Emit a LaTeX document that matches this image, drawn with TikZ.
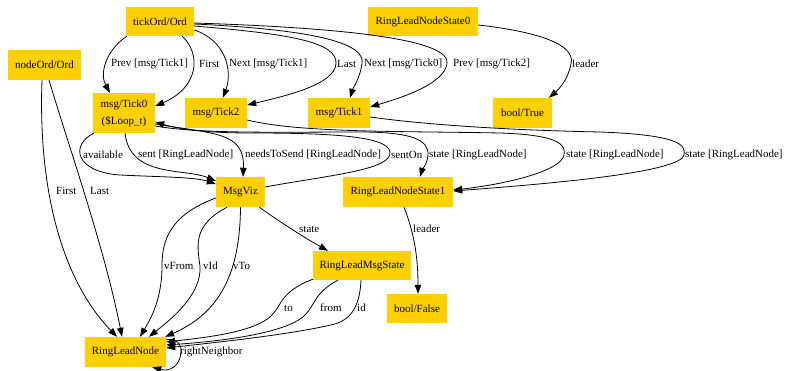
\documentclass[tikz,border=0pt]{standalone}
\usepackage{fontspec}
\setmainfont{Liberation Serif}
\usetikzlibrary{arrows.meta}
\definecolor{nodeyellow}{RGB}{255,208,0}
\begin{document}
\begin{tikzpicture}[x=1pt,y=-1pt,
  box/.style={fill=nodeyellow, inner sep=0pt, font=\fontsize{11}{13}\selectfont, align=center},
  lbl/.style={anchor=west, inner sep=0pt, font=\fontsize{11}{13}\selectfont},
  edge/.style={draw, line width=0.8pt, -{Triangle[length=9pt,width=6.5pt]}}
]
\useasboundingbox (0,0) rectangle (785,371);
% nodes
\node[box, minimum width=68pt, minimum height=29pt] (tick) at (160,21.5) {tickOrd/Ord};
\node[box, minimum width=110pt, minimum height=29pt] (rlns0) at (423,21.5) {RingLeadNodeState0};
\node[box, minimum width=73pt, minimum height=30pt] (nodeord) at (44.5,65) {nodeOrd/Ord};
\node[box, minimum width=62pt, minimum height=40pt] (tick0) at (124,113) {msg/Tick0\\[4pt](\$Loop\_t)};
\node[box, minimum width=62pt, minimum height=30pt] (tick2) at (216,113) {msg/Tick2};
\node[box, minimum width=62pt, minimum height=30pt] (tick1) at (339,113) {msg/Tick1};
\node[box, minimum width=59pt, minimum height=30pt] (btrue) at (522.5,113) {bool/True};
\node[box, minimum width=49pt, minimum height=30pt] (msgviz) at (240.5,192) {MsgViz};
\node[box, minimum width=110pt, minimum height=30pt] (rlns1) at (398,192) {RingLeadNodeState1};
\node[box, minimum width=98pt, minimum height=29pt] (rlms) at (362,265.5) {RingLeadMsgState};
\node[box, minimum width=60pt, minimum height=29pt] (bfalse) at (417,308.5) {bool/False};
\node[box, minimum width=81pt, minimum height=30pt] (rln) at (125.5,352) {RingLeadNode};
% edges from tickOrd
\path[edge] ([xshift=1pt]tick.south west) .. controls (104,52) and (100,75) .. ([xshift=-14pt]tick0.north);
\path[edge] ([xshift=-12pt]tick.south east) .. controls (202,55) and (198,88) .. ([yshift=7pt]tick0.east);
\path[edge] ([yshift=-8.5pt]tick.east) .. controls (225,40) and (233,70) .. ([xshift=7pt]tick2.north);
\path[edge] ([yshift=-4.5pt]tick.east) .. controls (290,34) and (338,42) .. (336,64) .. controls (334,84) and (290,95) .. ([yshift=8pt]tick2.east);
\path[edge] ([yshift=-2.5pt]tick.east) .. controls (320,30) and (366,44) .. (362,64) .. controls (360,78) and (353,88) .. ([xshift=11pt]tick1.north);
\path[edge] ([yshift=-1.5pt]tick.east) .. controls (350,28) and (452,40) .. (447,64) .. controls (443,85) and (400,98) .. ([yshift=6pt]tick1.east);
% RingLeadNodeState0 -> bool/True
\path[edge] ([yshift=-3.5pt]rlns0.east) .. controls (540,32) and (576,45) .. (571,64) .. controls (568,80) and (558,90) .. ([xshift=26.5pt]btrue.north);
% nodeOrd -> RingLeadNode
\path[edge] ([xshift=-2.5pt]nodeord.south) .. controls (38,190) and (62,280) .. ([xshift=-8.5pt]rln.north);
\path[edge] ([xshift=4.5pt]nodeord.south) .. controls (70,150) and (105,250) .. ([xshift=-3.5pt]rln.north);
% Tick0 -> MsgViz
\path[edge] ([xshift=1pt]tick0.south west) .. controls (70,145) and (75,172) .. (120,175) .. controls (160,177) and (195,177) .. ([yshift=8pt]msgviz.west);
\path[edge] ([xshift=1pt]tick0.south) .. controls (130,178) and (185,168) .. ([yshift=11pt]msgviz.west);
\path[edge] ([yshift=-11pt]tick0.east) .. controls (215,134) and (245,132) .. ([xshift=2.5pt]msgviz.north);
% MsgViz -> Tick0 sentOn
\path[edge] ([yshift=5pt]msgviz.east) .. controls (330,175) and (392,170) .. (390,152) .. controls (388,136) and (330,133) .. (250,133) .. controls (200,133) and (175,128) .. ([yshift=-9pt]tick0.east);
% state -> RingLeadNodeState1
\path[edge] ([yshift=-13pt]tick0.east) .. controls (200,134) and (280,132) .. (360,132) .. controls (412,132) and (429,140) .. (428,155) .. controls (427,165) and (422,170) .. ([xshift=22pt]rlns1.north);
\path[edge] ([yshift=-7pt]tick2.east) .. controls (300,133) and (400,131) .. (500,133) .. controls (560,135) and (566,145) .. (564,155) .. controls (561,172) and (500,185) .. ([yshift=2pt]rlns1.east);
\path[edge] ([yshift=-4pt]tick1.east) .. controls (420,124) and (500,130) .. (600,132) .. controls (680,135) and (686,145) .. (684,155) .. controls (680,172) and (560,183) .. ([yshift=1pt]rlns1.east);
% MsgViz -> RingLeadMsgState
\path[edge] ([xshift=-6pt]msgviz.south east) .. controls (280,222) and (305,238) .. ([xshift=-34pt]rlms.north);
% MsgViz -> RingLeadNode
\path[edge] ([yshift=-6pt]msgviz.west) .. controls (170,215) and (162,240) .. (162,266) .. controls (162,300) and (150,320) .. ([xshift=14.5pt]rln.north);
\path[edge] ([xshift=-13.5pt]msgviz.south) .. controls (193,225) and (197,245) .. (200,266) .. controls (202,295) and (170,320) .. ([xshift=23.5pt]rln.north);
\path[edge] (msgviz.south) .. controls (240,270) and (222,312) .. ([xshift=-1pt]rln.north east);
% RingLeadMsgState -> RingLeadNode
\path[edge] ([yshift=1pt]rlms.south west) .. controls (280,292) and (282,305) .. (272,315) .. controls (255,333) and (200,338) .. ([yshift=10pt]rln.east);
\path[edge] ([xshift=-24pt]rlms.south) .. controls (315,292) and (315,305) .. (305,315) .. controls (285,335) and (210,342) .. ([yshift=7pt]rln.east);
\path[edge] ([xshift=-1pt]rlms.south) .. controls (360,300) and (355,318) .. (335,324) .. controls (290,335) and (210,343) .. ([yshift=4pt]rln.east);
% self loop
\path[edge] ([yshift=-3pt]rln.north east) .. controls (176,338) and (182,344) .. (181,352) .. controls (180,366) and (170,372) .. ([xshift=-14pt]rln.south east);
% RingLeadNodeState1 -> bool/False
\path[edge] ([xshift=6pt]rlns1.south) .. controls (415,235) and (418,260) .. ([xshift=1pt]bfalse.north);
% labels
\node[lbl] (l1) at (111,64) {Prev [msg/Tick1]};
\node[lbl] (l2) at (199,64) {First};
\node[lbl] (l3) at (229,64) {Next [msg/Tick1]};
\node[lbl] (l4) at (337,64) {Last};
\node[lbl] (l5) at (364,64) {Next [msg/Tick0]};
\node[lbl] (l6) at (453,64) {Prev [msg/Tick2]};
\node[lbl] (l7) at (572,64) {leader};
\node[lbl] (l8) at (56,191) {First};
\node[lbl] (l9) at (90,191) {Last};
\node[lbl] (l10) at (83,155) {available};
\node[lbl] (l11) at (138,155) {sent [RingLeadNode]};
\node[lbl] (l12) at (245,155) {needsToSend [RingLeadNode]};
\node[lbl] (l13) at (391,155) {sentOn};
\node[lbl] (l14) at (429,155) {state [RingLeadNode]};
\node[lbl] (l15) at (566,155) {state [RingLeadNode]};
\node[lbl] (l16) at (685,155) {state [RingLeadNode]};
\node[lbl] (l17) at (299,229) {state};
\node[lbl] (l18) at (413,229) {leader};
\node[lbl] (l19) at (164,266) {vFrom};
\node[lbl] (l20) at (203,266) {vId};
\node[lbl] (l21) at (233,266) {vTo};
\node[lbl] (l22) at (284,308) {to};
\node[lbl] (l23) at (320,308) {from};
\node[lbl] (l24) at (357,308) {id};
\node[lbl] (l25) at (180,352) {rightNeighbor};
\end{tikzpicture}
\end{document}
